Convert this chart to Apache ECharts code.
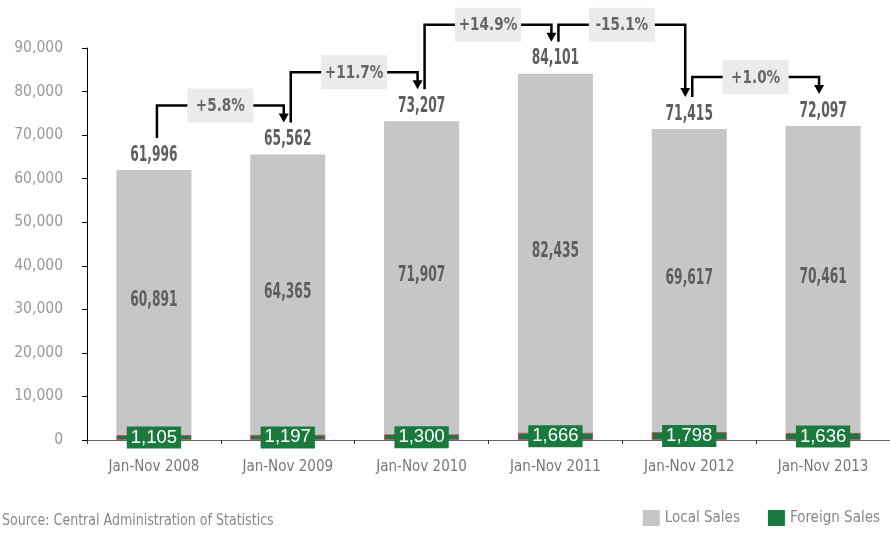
<!DOCTYPE html>
<html>
<head>
<meta charset="utf-8">
<script src="https://cdn.jsdelivr.net/npm/echarts@6/dist/echarts.min.js"></script>
<style>
  html, body { margin: 0; padding: 0; background: #fff; }
  #chart { width: 890px; height: 536px; }
</style>
</head>
<body>
<div id="chart"></div>
<script>
// Annual sales, January to November
const categories = ['Jan-Nov 2008', 'Jan-Nov 2009', 'Jan-Nov 2010', 'Jan-Nov 2011', 'Jan-Nov 2012', 'Jan-Nov 2013'];
const localSales = [60891, 64365, 71907, 82435, 69617, 70461];
const foreignSales = [1105, 1197, 1300, 1666, 1798, 1636];
const changeLabels = ['+5.8%', '+11.7%', '+14.9%', '-15.1%', '+1.0%'];
const yTicks = [0, 10000, 20000, 30000, 40000, 50000, 60000, 70000, 80000, 90000];

const totals = localSales.map((v, i) => v + foreignSales[i]);
const FONT = "'DejaVu Sans Condensed', 'Liberation Sans Narrow', sans-serif";
const fmt = v => v.toLocaleString('en-US');

const chart = echarts.init(document.getElementById('chart'));

// Year-over-year connector: up from one total, across, down with an arrow to the next
function renderConnector(params, api) {
  const i = api.value(0);
  const a = api.coord([i, totals[i]]);
  const b = api.coord([i + 1, totals[i + 1]]);
  const x1 = a[0] + 3, x2 = b[0] - 4;
  const yStart = a[1] - 32, yTip = b[1] - 32;
  const level = Math.min(a[1], b[1]) - 49;
  const mid = (x1 + x2) / 2;
  const boxW = 66, boxH = 34;
  return {
    type: 'group',
    children: [
      {
        type: 'polyline',
        shape: { points: [[x1, yStart], [x1, level], [x2, level], [x2, yTip - 8]] },
        style: { stroke: '#000', lineWidth: 2.5, fill: null }
      },
      {
        type: 'polygon',
        shape: { points: [[x2 - 5, yTip - 9], [x2 + 5, yTip - 9], [x2, yTip]] },
        style: { fill: '#000' }
      },
      {
        type: 'rect',
        shape: { x: mid - boxW / 2, y: level - boxH / 2, width: boxW, height: boxH },
        style: { fill: '#ebebeb' }
      },
      {
        type: 'text',
        x: mid, y: level + 1, scaleX: 0.84,
        style: {
          text: changeLabels[i], fill: '#666', font: 'bold 18px ' + FONT,
          align: 'center', verticalAlign: 'middle'
        }
      }
    ]
  };
}

// Bold value labels: total above each bar, local sales in the middle of the grey segment
function renderValueLabels(params, api) {
  const i = api.value(0);
  const foreign = api.value(1), local = api.value(2), total = api.value(3);
  const top = api.coord([i, total]);
  const middle = api.coord([i, foreign + local / 2]);
  const textStyle = { fill: '#5e5e5e', font: 'bold 22px ' + FONT, align: 'center' };
  return {
    type: 'group',
    children: [
      {
        type: 'text', x: top[0], y: top[1] - 4, scaleX: 0.62,
        style: Object.assign({ text: fmt(total), verticalAlign: 'bottom' }, textStyle)
      },
      {
        type: 'text', x: middle[0], y: middle[1] - 2, scaleX: 0.62,
        style: Object.assign({ text: fmt(local), verticalAlign: 'middle' }, textStyle)
      }
    ]
  };
}

chart.setOption({
  animation: false,
  backgroundColor: '#fff',
  textStyle: { fontFamily: FONT },
  grid: { left: 87, right: -7, top: 48, bottom: 96 },
  legend: {
    data: ['Local Sales', 'Foreign Sales'],
    right: 5, bottom: 5,
    icon: 'rect', itemWidth: 17, itemHeight: 16, itemGap: 28,
    itemStyle: { borderWidth: 0 },
    textStyle: { color: '#888', fontSize: 15, fontFamily: FONT }
  },
  graphic: [{
    type: 'text', left: 2, top: 512, scaleX: 0.85,
    style: { text: 'Source: Central Administration of Statistics', fill: '#888', font: '16.5px ' + FONT }
  }],
  xAxis: {
    type: 'category',
    data: categories,
    axisLine: { lineStyle: { color: '#666', width: 1 } },
    axisTick: { show: true, alignWithLabel: false, length: 4, lineStyle: { color: '#333' } },
    axisLabel: { color: '#777', fontSize: 15, margin: 20, fontFamily: FONT }
  },
  yAxis: {
    type: 'value',
    min: yTicks[0], max: yTicks[yTicks.length - 1], interval: yTicks[1] - yTicks[0],
    splitLine: { show: false },
    axisLine: { show: true, lineStyle: { color: '#000', width: 1 } },
    axisTick: { show: true, length: 5, lineStyle: { color: '#000' } },
    axisLabel: { color: '#999', fontSize: 15.5, margin: 24, fontFamily: FONT, formatter: v => fmt(v) }
  },
  series: [
    {
      name: 'Foreign Sales', type: 'bar', stack: 'sales', barWidth: 75,
      data: foreignSales,
      itemStyle: { color: '#1a7a3e', borderColor: '#b8405a', borderWidth: 0.8 },
      label: {
        show: true, position: 'inside', formatter: p => fmt(p.value),
        color: '#fff', fontSize: 18.5, fontFamily: "'Liberation Sans', Arial, sans-serif",
        backgroundColor: '#1a7a3e', padding: [2, 4, 1, 4]
      },
      z: 3
    },
    {
      name: 'Local Sales', type: 'bar', stack: 'sales', barWidth: 75,
      data: localSales,
      itemStyle: { color: '#c6c6c6' },
      z: 2
    },
    {
      name: 'Values', type: 'custom',
      data: categories.map((c, i) => [i, foreignSales[i], localSales[i], totals[i]]),
      renderItem: renderValueLabels,
      silent: true, z: 9
    },
    {
      name: 'Change', type: 'custom',
      data: changeLabels.map((_, i) => [i]),
      renderItem: renderConnector,
      silent: true, z: 10
    }
  ]
});
</script>
</body>
</html>
